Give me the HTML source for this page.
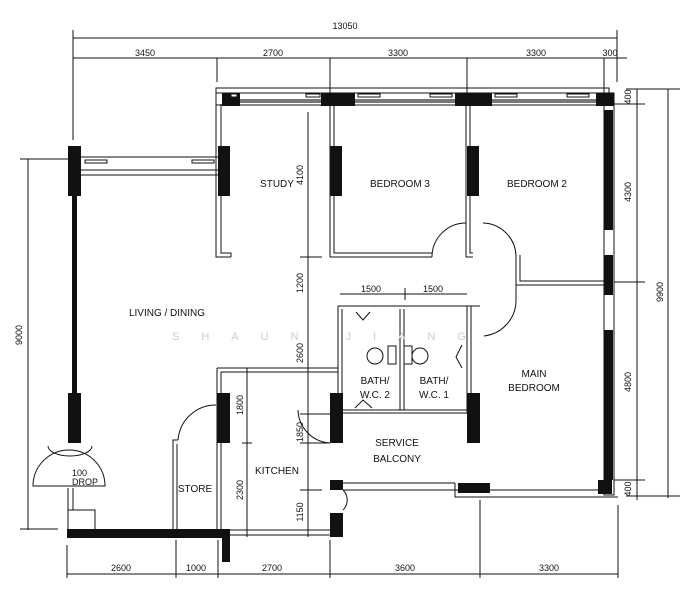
<!DOCTYPE html>
<html><head><style>html,body{margin:0;padding:0;background:#fff}svg{display:block}
text{font-family:"Liberation Sans",sans-serif;font-size:10px;fill:#111}
.d{font-size:9px}</style></head><body>
<svg width="688" height="600" viewBox="0 0 688 600" xmlns="http://www.w3.org/2000/svg">
<g stroke="#111" stroke-width="1" fill="none">
<!-- top dims -->
<line x1="73" y1="38" x2="617" y2="38"/>
<line x1="73" y1="58" x2="627" y2="58"/>
<line x1="73" y1="30" x2="73" y2="140"/>
<line x1="617" y1="30" x2="617" y2="82"/>
<line x1="217" y1="58" x2="217" y2="82"/>
<line x1="330" y1="58" x2="330" y2="104"/>
<line x1="467" y1="58" x2="467" y2="104"/>
<line x1="604" y1="58" x2="604" y2="100"/>
<!-- right dims -->
<line x1="626" y1="89" x2="680" y2="89"/>
<line x1="637" y1="89" x2="637" y2="500"/>
<line x1="668" y1="89" x2="668" y2="498"/>
<line x1="614" y1="104" x2="645" y2="104"/>
<line x1="614" y1="282" x2="645" y2="282"/>
<line x1="614" y1="480" x2="645" y2="480"/>
<line x1="626" y1="496" x2="680" y2="496"/>
<!-- left dim -->
<line x1="20" y1="159" x2="68" y2="159"/>
<line x1="28" y1="159" x2="28" y2="530"/>
<line x1="20" y1="529" x2="58" y2="529"/>
<!-- bottom dims -->
<line x1="67" y1="574" x2="618" y2="574"/>
<line x1="67" y1="545" x2="67" y2="578"/>
<line x1="176" y1="540" x2="176" y2="578"/>
<line x1="218" y1="540" x2="218" y2="578"/>
<line x1="330" y1="540" x2="330" y2="578"/>
<line x1="480" y1="500" x2="480" y2="578"/>
<line x1="618" y1="505" x2="618" y2="578"/>
<!-- interior dim lines -->
<line x1="308" y1="112" x2="308" y2="537"/>
<line x1="300" y1="257" x2="322" y2="257"/>
<line x1="300" y1="414" x2="330" y2="414"/>
<line x1="300" y1="443" x2="330" y2="443"/>
<line x1="300" y1="490" x2="322" y2="490"/>
<line x1="247" y1="368" x2="247" y2="537"/>
<line x1="242" y1="443" x2="252" y2="443"/>
<line x1="340" y1="294" x2="467" y2="294"/>
<line x1="405" y1="288" x2="405" y2="300"/>
<!-- top wall -->
<rect x="216" y="88" width="393" height="17"/>
<line x1="216" y1="93" x2="609" y2="93"/>
<line x1="222" y1="101" x2="608" y2="101" stroke="#777" stroke-width="4"/>
<!-- left window wall -->
<rect x="73" y="157" width="147" height="18"/>
<line x1="73" y1="170" x2="220" y2="170"/>
<!-- study left wall -->
<path d="M216 88 V257 H231 M221 104 V253 H231 V257"/>
<!-- wall x330 -->
<path d="M330 104 V257 H432 M334 104 V253 H432"/>
<!-- wall x467 -->
<path d="M466 104 V257 H473 M470 104 V253 H473"/>
<path d="M432 257 A34 34 0 0 1 466 223"/>
<path d="M483 223 A34 34 0 0 1 516 257"/>
<path d="M516 255 V285 H606 M520 255 V281 H606"/>
<!-- right wall -->
<rect x="604" y="93" width="10" height="402"/>
<!-- bath block -->
<path d="M338 306 V413 M342 309 V410 H467 M338 306 H480 M338 413 H467"/>
<path d="M400 309 V410 M404 309 V410"/>
<path d="M467 306 V413 M471 306 V400"/>
<!-- kitchen -->
<path d="M217 368 H338 M221 372 H338 M217 368 V530 M221 372 V530"/>
<path d="M173 530 V440 H178 M177 530 V444"/>
<path d="M178 440 A38 38 0 0 1 216 405"/>
<path d="M330 443 A34 34 0 0 1 298 410"/>
<!-- service balcony -->
<path d="M343 483 H455 M343 490 H455"/>
<path d="M455 483 V497 H618 M455 490 H606"/>
<path d="M230 530 H330 M230 535 H330"/>
<!-- drop -->
<path d="M33 486 A36 36 0 0 1 105 486 Z"/>
<path d="M48 446 A22 10 0 0 0 92 446"/>
<path d="M68 488 V529 M73 488 V510 H95 V529 M68 510 H90"/>
<!-- bath fixtures -->
<circle cx="375" cy="356" r="8"/><circle cx="420" cy="356" r="8"/>
<rect x="388" y="346" width="8" height="18"/><rect x="404" y="346" width="8" height="18"/>
<path d="M356 312 L363 320 L370 312 M355 408 L363 400 L372 408 M462 345 L456 357 L462 368"/>
<path d="M484 336 A36 36 0 0 0 516 300 V285"/>
<path d="M343 490 A14 14 0 0 1 343 510"/>
</g>
<!-- black columns -->
<g fill="#111">
<rect x="222" y="93" width="18" height="13"/><rect x="321" y="93" width="34" height="13"/>
<rect x="455" y="93" width="37" height="13"/><rect x="596" y="93" width="18" height="13"/>
<rect x="68" y="146" width="13" height="50"/><rect x="218" y="146" width="12" height="50"/>
<rect x="330" y="146" width="12" height="50"/><rect x="467" y="146" width="12" height="50"/>
<rect x="604" y="110" width="9" height="120"/><rect x="604" y="255" width="9" height="40"/><rect x="604" y="330" width="9" height="150"/>
<rect x="72" y="196" width="5" height="197"/>
<rect x="68" y="393" width="13" height="50"/>
<rect x="217" y="393" width="13" height="50"/>
<rect x="330" y="393" width="13" height="50"/><rect x="467" y="393" width="13" height="50"/>
<rect x="330" y="480" width="13" height="10"/><rect x="330" y="513" width="13" height="24"/>
<rect x="458" y="483" width="32" height="10"/><rect x="598" y="480" width="14" height="14"/>
<rect x="67" y="529" width="163" height="9"/><rect x="222" y="535" width="8" height="27"/>
</g>
<g fill="#fff" stroke="#111" stroke-width="1">
<rect x="231" y="94" width="6" height="3"/><rect x="306" y="94" width="14" height="3"/>
<rect x="358" y="94" width="22" height="3"/><rect x="430" y="94" width="22" height="3"/>
<rect x="495" y="94" width="22" height="3"/><rect x="567" y="94" width="22" height="3"/>
<rect x="85" y="160" width="22" height="3"/><rect x="192" y="160" width="22" height="3"/>
</g>
<!-- dimension labels -->
<text x="345" y="29" text-anchor="middle" class="d">13050</text>
<text x="145" y="56" text-anchor="middle" class="d">3450</text>
<text x="273" y="56" text-anchor="middle" class="d">2700</text>
<text x="398" y="56" text-anchor="middle" class="d">3300</text>
<text x="536" y="56" text-anchor="middle" class="d">3300</text>
<text x="610" y="56" text-anchor="middle" class="d">300</text>
<g class="d">
<text transform="translate(631,97) rotate(-90)" text-anchor="middle" class="d">400</text>
<text transform="translate(631,192) rotate(-90)" text-anchor="middle" class="d">4300</text>
<text transform="translate(631,382) rotate(-90)" text-anchor="middle" class="d">4800</text>
<text transform="translate(631,489) rotate(-90)" text-anchor="middle" class="d">400</text>
<text transform="translate(663,292) rotate(-90)" text-anchor="middle" class="d">9900</text>
<text transform="translate(22,335) rotate(-90)" text-anchor="middle" class="d">9000</text>
<text transform="translate(303,175) rotate(-90)" text-anchor="middle" class="d">4100</text>
<text transform="translate(303,283) rotate(-90)" text-anchor="middle" class="d">1200</text>
<text transform="translate(303,353) rotate(-90)" text-anchor="middle" class="d">2600</text>
<text transform="translate(303,432) rotate(-90)" text-anchor="middle" class="d">1850</text>
<text transform="translate(303,512) rotate(-90)" text-anchor="middle" class="d">1150</text>
<text transform="translate(243,405) rotate(-90)" text-anchor="middle" class="d">1800</text>
<text transform="translate(243,490) rotate(-90)" text-anchor="middle" class="d">2300</text>
</g>
<text x="371" y="292" text-anchor="middle" class="d">1500</text>
<text x="433" y="292" text-anchor="middle" class="d">1500</text>
<text x="121" y="571" text-anchor="middle" class="d">2600</text>
<text x="196" y="571" text-anchor="middle" class="d">1000</text>
<text x="272" y="571" text-anchor="middle" class="d">2700</text>
<text x="405" y="571" text-anchor="middle" class="d">3600</text>
<text x="549" y="571" text-anchor="middle" class="d">3300</text>
<!-- room labels -->
<text x="277" y="187" text-anchor="middle">STUDY</text>
<text x="400" y="187" text-anchor="middle">BEDROOM 3</text>
<text x="537" y="187" text-anchor="middle">BEDROOM 2</text>
<text x="167" y="316" text-anchor="middle">LIVING / DINING</text>
<text x="375" y="384" text-anchor="middle">BATH/</text>
<text x="375" y="398" text-anchor="middle">W.C. 2</text>
<text x="434" y="384" text-anchor="middle">BATH/</text>
<text x="434" y="398" text-anchor="middle">W.C. 1</text>
<text x="534" y="377" text-anchor="middle">MAIN</text>
<text x="534" y="391" text-anchor="middle">BEDROOM</text>
<text x="397" y="446" text-anchor="middle">SERVICE</text>
<text x="397" y="462" text-anchor="middle">BALCONY</text>
<text x="277" y="474" text-anchor="middle">KITCHEN</text>
<text x="195" y="492" text-anchor="middle">STORE</text>
<text x="72" y="476" class="d">100</text>
<text x="72" y="485" class="d">DROP</text>
<text x="330" y="340" text-anchor="middle" style="fill:#ccc;font-size:11px;letter-spacing:22px">SHAUN JIANG</text>
</svg>
</body></html>
